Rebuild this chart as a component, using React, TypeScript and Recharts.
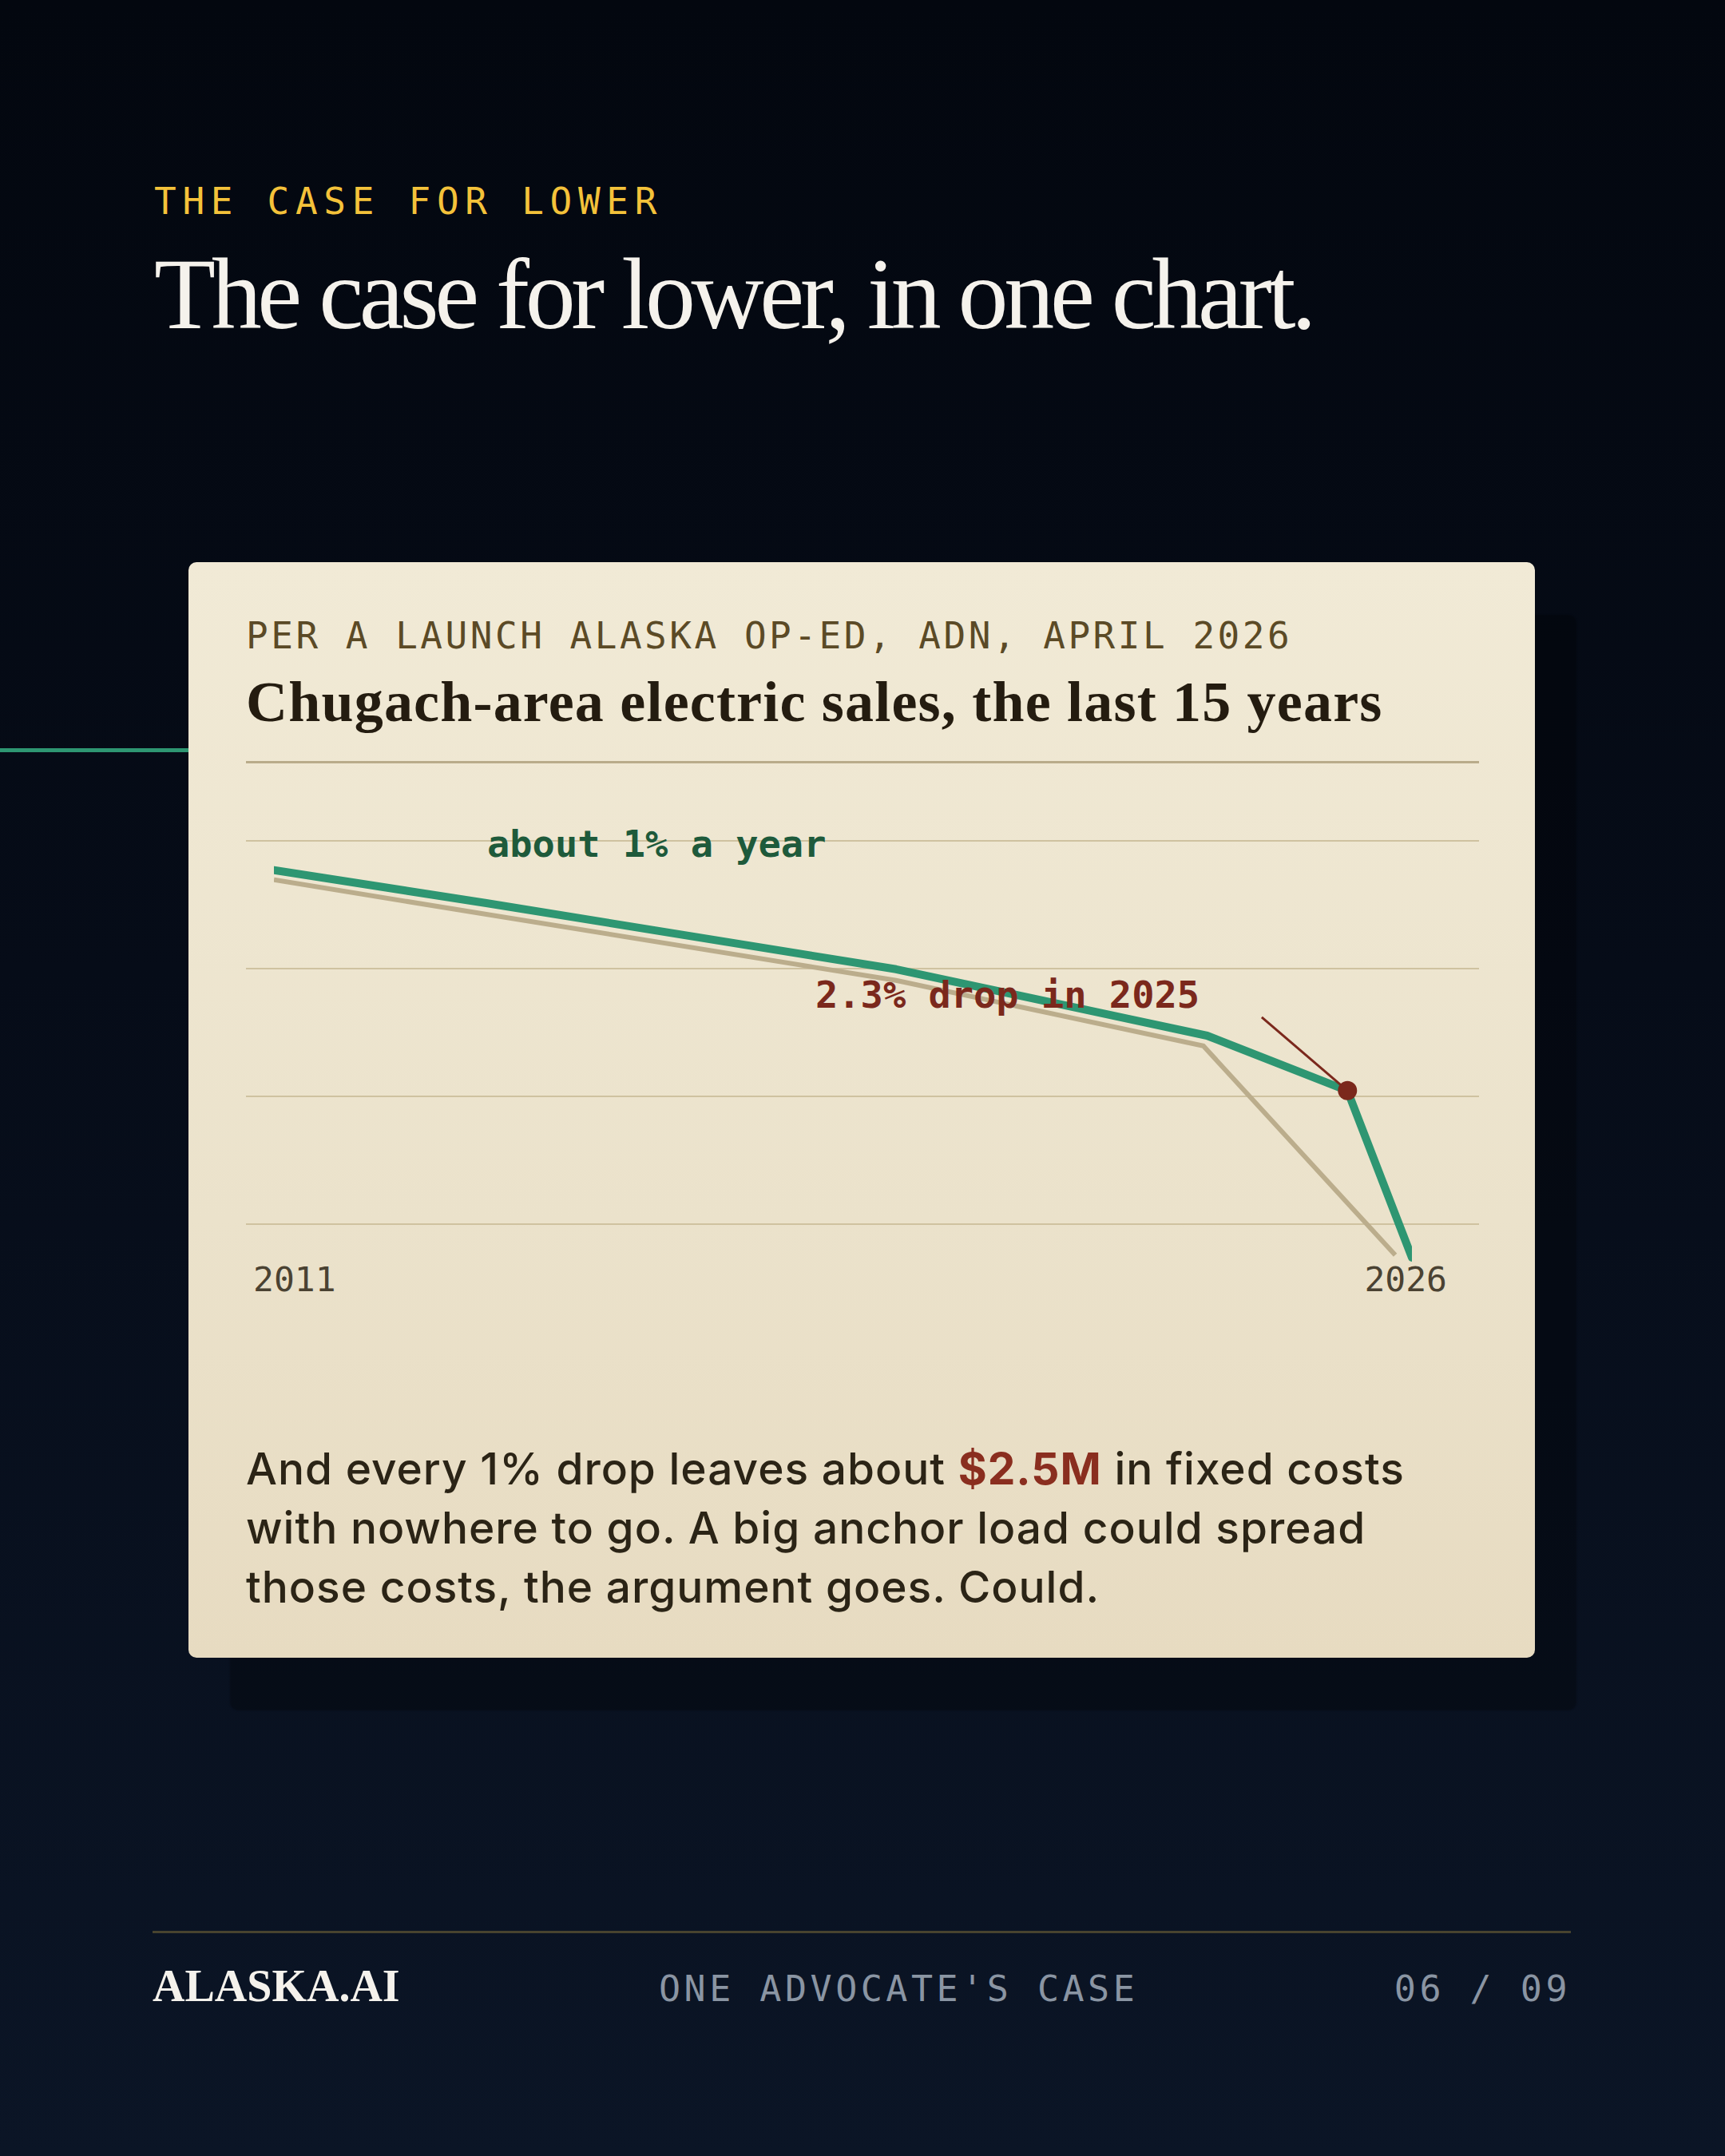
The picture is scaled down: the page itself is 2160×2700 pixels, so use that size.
import React from 'react';
import { ComposedChart, Line, XAxis, YAxis, CartesianGrid } from 'recharts';

// sales index (top gridline = 104)
const saleYears = [2011, 2013.8, 2019.2, 2023.3, 2025.15, 2026];
const saleIndex = [103.08, 102.05, 99.98, 97.9, 96.18, 90.95];

// the pale "trend" line underneath
const trendYears = [2011, 2013.8, 2019.2, 2023.25, 2025.78];
const trendIndex = [102.78, 101.7, 99.63, 97.58, 91.03];

// leader line for the 2025 callout
const calloutYears = [2024.02, 2025.15];
const calloutIndex = [98.48, 96.18];

const gridValues = [92, 96, 100, 104];
const yearTicks = [2011, 2026];

const toRows = (xs: number[], ys: number[]) => xs.map((x, i) => ({ x, y: ys[i] }));

const saleRows = toRows(saleYears, saleIndex);
const trendRows = toRows(trendYears, trendIndex);
const calloutRows = toRows(calloutYears, calloutIndex);
const markRows = [saleRows[4]];

const mono = '"DejaVu Sans Mono", monospace';
const serif = '"Liberation Serif", serif';
const green = '#2e9672';
const rust = '#7b281c';

const YearTick = (props: any) => {
  const { x, y, payload } = props;
  const first = payload.value === yearTicks[0];
  return (
    <text
      x={x + (first ? -26 : 44)}
      y={y}
      dy={36}
      textAnchor={first ? 'start' : 'end'}
      fill="#4a4232"
      fontFamily={mono}
      fontSize={43}
    >
      {payload.value}
    </text>
  );
};

const abs = (o: React.CSSProperties): React.CSSProperties => ({ position: 'absolute', margin: 0, whiteSpace: 'nowrap', ...o });

export default function App() {
  return (
    <div
      style={{
        position: 'absolute',
        left: 0,
        top: 0,
        width: 2160,
        height: 2700,
        overflow: 'hidden',
        background: 'linear-gradient(180deg, #03070f 0%, #060c18 45%, #0b1526 100%)',
      }}
    >
      <div style={abs({ left: 193, top: 229, fontFamily: mono, fontSize: 46, lineHeight: '46px', letterSpacing: 7.7, color: '#f4c23a' })}>
        THE CASE FOR LOWER
      </div>
      <div style={abs({ left: 193, top: 306, fontFamily: serif, fontSize: 126, lineHeight: '126px', letterSpacing: -5.3, color: '#f5f2ec' })}>
        The case for lower, in one chart.
      </div>

      <div style={abs({ left: 0, top: 937, width: 236, height: 5, background: green })} />

      <div
        style={abs({
          left: 236,
          top: 704,
          width: 1686,
          height: 1372,
          borderRadius: 10,
          background: 'linear-gradient(180deg, #f1ead6 0%, #ebe2cb 60%, #e7dbc1 100%)',
          boxShadow: '52px 66px 2px rgba(0,0,0,0.28)',
        })}
      />

      <div style={abs({ left: 308, top: 773, fontFamily: mono, fontSize: 46, lineHeight: '46px', letterSpacing: 3.5, color: '#5b4a26' })}>
        PER A LAUNCH ALASKA OP-ED, ADN, APRIL 2026
      </div>
      <div style={abs({ left: 308, top: 843, fontFamily: serif, fontWeight: 700, fontSize: 72, lineHeight: '72px', letterSpacing: 1.2, color: '#241c10' })}>
        Chugach-area electric sales, the last 15 years
      </div>
      <div style={abs({ left: 308, top: 953, width: 1544, height: 3, background: '#b9ac8a' })} />

      <div style={abs({ left: 308, top: 1013 })}>
        <ComposedChart width={1544} height={628} margin={{ top: 0, right: 0, bottom: 0, left: 0 }}>
          <CartesianGrid vertical={false} horizontalValues={gridValues} stroke="#cfc2a0" strokeWidth={2} />
          <XAxis
            type="number"
            dataKey="x"
            domain={[2011, 2026]}
            allowDataOverflow
            ticks={yearTicks}
            padding={{ left: 35, right: 84 }}
            axisLine={false}
            tickLine={false}
            tickSize={0}
            tickMargin={0}
            height={60}
            tick={<YearTick />}
          />
          <YAxis type="number" dataKey="y" domain={[90.8, 105]} allowDataOverflow ticks={gridValues} hide />
          <Line
            data={trendRows}
            dataKey="y"
            type="linear"
            stroke="#bbad8c"
            strokeWidth={6}
            dot={false}
            activeDot={false}
            isAnimationActive={false}
          />
          <Line
            data={saleRows}
            dataKey="y"
            type="linear"
            stroke={green}
            strokeWidth={10}
            strokeLinecap="round"
            strokeLinejoin="round"
            dot={false}
            activeDot={false}
            isAnimationActive={false}
          />
          <Line
            data={calloutRows}
            dataKey="y"
            type="linear"
            stroke={rust}
            strokeWidth={3}
            dot={false}
            activeDot={false}
            isAnimationActive={false}
          />
          <Line
            data={markRows}
            dataKey="y"
            stroke="none"
            dot={{ r: 12, fill: rust, stroke: 'none' }}
            activeDot={false}
            isAnimationActive={false}
          />
        </ComposedChart>
      </div>

      <div style={abs({ left: 610, top: 1033, fontFamily: mono, fontWeight: 700, fontSize: 47, lineHeight: '47px', color: '#1e5a3b' })}>
        about 1% a year
      </div>
      <div style={abs({ left: 1021, top: 1222, fontFamily: mono, fontWeight: 700, fontSize: 47, lineHeight: '47px', color: rust })}>
        2.3% drop in 2025
      </div>

      <div style={abs({ left: 308, top: 1802, fontFamily: 'Inter, sans-serif', fontWeight: 500, fontSize: 55, lineHeight: '74px', letterSpacing: 1.0, color: '#2b2416' })}>
        And every 1% drop leaves about <span style={{ fontWeight: 700, color: '#8a2e1f' }}>$2.5M</span> in fixed costs
        <br />
        with nowhere to go. A big anchor load could spread
        <br />
        those costs, the argument goes. Could.
      </div>

      <div style={abs({ left: 191, top: 2418, width: 1776, height: 3, background: '#48432f' })} />
      <div style={abs({ left: 191, top: 2459, fontFamily: serif, fontWeight: 700, fontSize: 56, lineHeight: '56px', color: '#f5f2ec' })}>
        ALASKA.AI
      </div>
      <div style={abs({ left: 825, top: 2468, fontFamily: mono, fontSize: 45, lineHeight: '45px', letterSpacing: 4.5, color: '#8a95a3' })}>
        ONE ADVOCATE'S CASE
      </div>
      <div style={abs({ right: 193, top: 2468, fontFamily: mono, fontSize: 45, lineHeight: '45px', letterSpacing: 4.5, color: '#8a95a3' })}>
        06 / 09
      </div>
    </div>
  );
}
